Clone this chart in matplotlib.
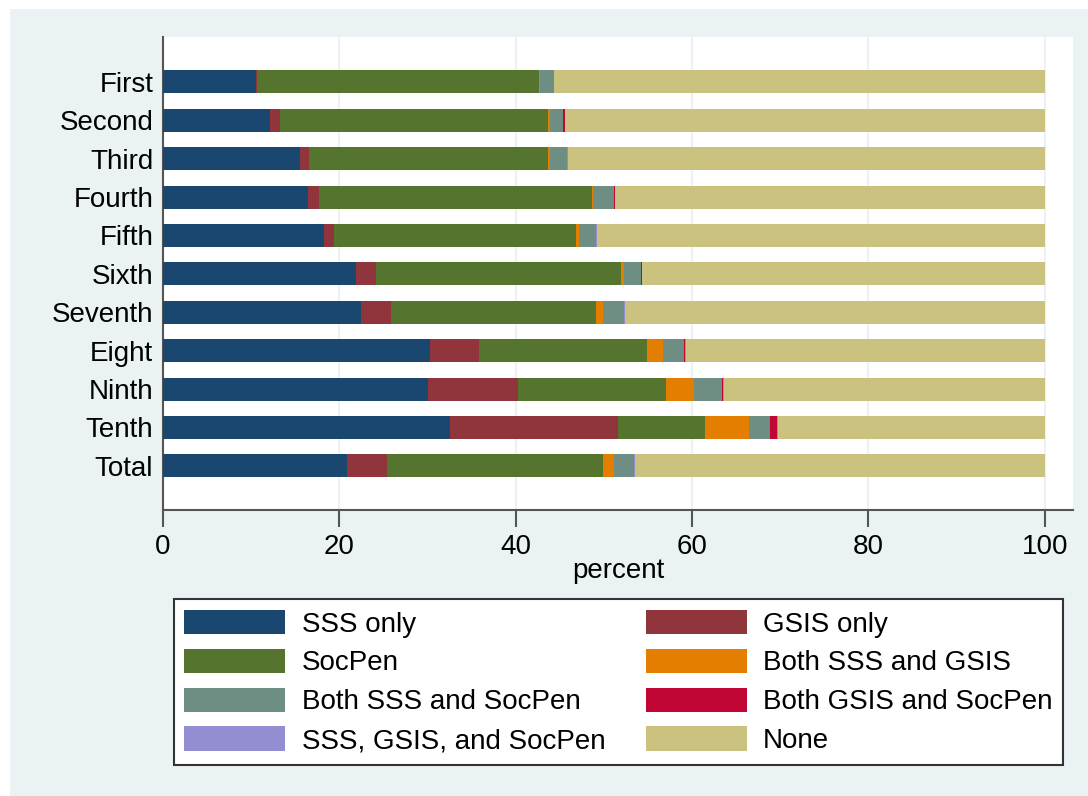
import numpy as np
import matplotlib
matplotlib.use("Agg")
import matplotlib.pyplot as plt
from matplotlib.patches import Rectangle

plt.rcParams["font.family"] = ["Liberation Sans", "DejaVu Sans"]

# deciles (top to bottom)
groups = ["First", "Second", "Third", "Fourth", "Fifth", "Sixth",
          "Seventh", "Eight", "Ninth", "Tenth", "Total"]

# percent of households per programme combination
sss_only = [10.6, 12.1, 15.5, 16.4, 18.3, 21.85, 22.5, 30.3, 30.0, 32.6, 20.9]
gsis_only = [0.1, 1.2, 1.05, 1.25, 1.1, 2.3, 3.4, 5.5, 10.3, 19.0, 4.5]
socpen = [31.9, 30.35, 27.1, 30.95, 27.4, 27.75, 23.15, 19.1, 16.7, 9.85, 24.5]
sss_gsis = [0.2, 0.2, 0.2, 0.2, 0.35, 0.4, 0.85, 1.8, 3.25, 4.95, 1.2]
sss_socpen = [1.5, 1.5, 2.0, 2.3, 1.9, 1.9, 2.4, 2.35, 3.1, 2.4, 2.3]
gsis_socpen = [0.0, 0.2, 0.0, 0.2, 0.1, 0.15, 0.0, 0.15, 0.15, 0.85, 0.05]
all_three = [0.0, 0.0, 0.1, 0.0, 0.1, 0.0, 0.1, 0.1, 0.1, 0.15, 0.1]
none = [55.7, 54.45, 54.05, 48.7, 50.75, 45.65, 47.6, 40.7, 36.4, 30.2, 46.45]

series = [
    ("SSS only", sss_only, "#1a476f"),
    ("GSIS only", gsis_only, "#90353b"),
    ("SocPen", socpen, "#55752f"),
    ("Both SSS and GSIS", sss_gsis, "#e37e00"),
    ("Both SSS and SocPen", sss_socpen, "#6e8e84"),
    ("Both GSIS and SocPen", gsis_socpen, "#c10534"),
    ("SSS, GSIS, and SocPen", all_three, "#938dd2"),
    ("None", none, "#cac27e"),
]

BG = "#eaf2f3"
FS = 20

fig = plt.figure(figsize=(10.88, 7.96), dpi=100, facecolor="white")
fig.patches.append(Rectangle((10 / 1088, 0), 1, 1 - 9 / 796,
                             transform=fig.transFigure, facecolor=BG,
                             edgecolor="none", zorder=-10))

ax = fig.add_axes([163 / 1088, 1 - 510 / 796, 910 / 1088, 473 / 796])
ax.set_facecolor("white")

y = np.arange(len(groups))
left = np.zeros(len(groups))
handles = []
for name, vals, col in series:
    vals = np.array(vals)
    h = ax.barh(y, vals, left=left, height=0.6, color=col,
                edgecolor="none", label=name, zorder=3)
    handles.append(h)
    left += vals

ax.set_xlim(0, 103.2)
ax.set_ylim(len(groups) - 1 + 1.15, -1.17)
ax.set_yticks(y)
ax.set_yticklabels(groups, fontsize=FS)
ax.set_xticks([0, 20, 40, 60, 80, 100])
ax.tick_params(axis="x", labelsize=FS, length=12, width=1.5,
               color="#555555", pad=5)
ax.tick_params(axis="y", length=0, pad=7)
ax.set_xlabel("percent", fontsize=FS, labelpad=-1)

ax.grid(axis="x", color=BG, linewidth=1.5, zorder=0)
for s in ["top", "right"]:
    ax.spines[s].set_visible(False)
for s in ["left", "bottom"]:
    ax.spines[s].set_color("#555555")
    ax.spines[s].set_linewidth(1.5)

# legend in two columns, row-wise order like the original
order = [0, 2, 4, 6, 1, 3, 5, 7]
leg = fig.legend([handles[i] for i in order], [series[i][0] for i in order],
                 loc="center", bbox_to_anchor=(0.5685, 1 - 682 / 796),
                 ncol=2, fontsize=FS, frameon=True, fancybox=False,
                 framealpha=1, facecolor="white",
                 handlelength=3.63, handleheight=0.97, handletextpad=0.6,
                 columnspacing=1.45, labelspacing=0.4, borderpad=0.38,
                 borderaxespad=0)
leg.get_frame().set_edgecolor("#333333")
leg.get_frame().set_linewidth(1.5)

fig.savefig("out.png", dpi=100, facecolor=fig.get_facecolor())
